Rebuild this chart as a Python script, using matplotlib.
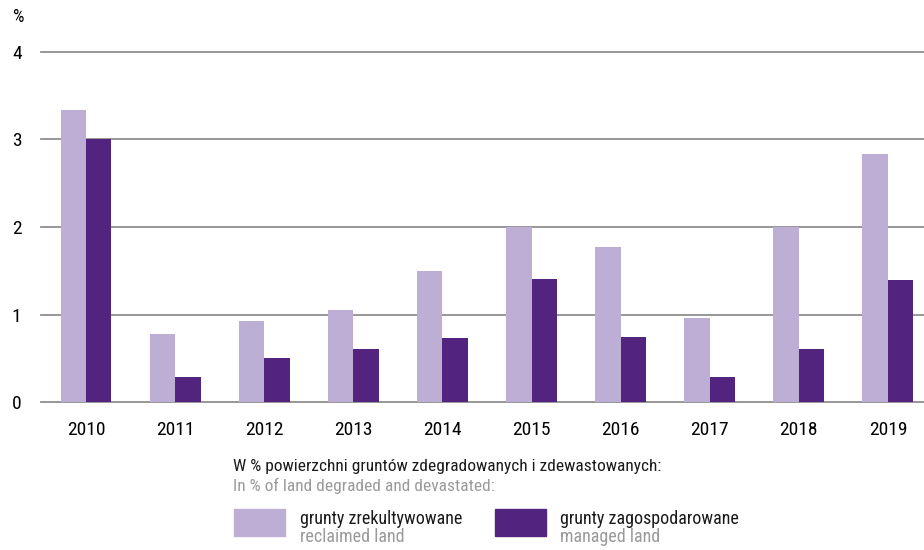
import numpy as np
import matplotlib
matplotlib.use('Agg')
import matplotlib.pyplot as plt
from matplotlib.patches import Rectangle
from matplotlib import font_manager

years = ['2010', '2011', '2012', '2013', '2014', '2015', '2016', '2017', '2018', '2019']
reclaimed = [3.34, 0.78, 0.93, 1.05, 1.50, 2.00, 1.77, 0.96, 2.00, 2.83]
managed = [3.00, 0.29, 0.50, 0.61, 0.73, 1.41, 0.74, 0.29, 0.61, 1.39]
yticks = [0, 1, 2, 3, 4]

light = '#bdaed6'
dark = '#52247f'
gray_txt = '#9a9a9a'

# pick a condensed face if there is one
names = set(f.name for f in font_manager.fontManager.ttflist)
cands = ['Liberation Sans Narrow', 'DejaVu Sans Condensed', 'Roboto Condensed',
         'Open Sans Condensed', 'Noto Sans']
fam = [c for c in cands if c in names]
plt.rcParams['font.family'] = fam[:1] + ['DejaVu Sans']
if fam and fam[0] == 'Noto Sans':
    plt.rcParams['font.stretch'] = 'condensed'

fig = plt.figure(figsize=(9.24, 5.5), dpi=100)
ax = fig.add_axes([41/924, 148/550, 883/924, 350/550])

x = np.arange(len(years))
w = 0.286
ax.bar(x - w/2, reclaimed, width=w, color=light, zorder=3)
ax.bar(x + w/2, managed, width=w, color=dark, zorder=3)

ax.set_xlim(-0.505, 9.405)
ax.set_ylim(0, 4)
ax.set_yticks(yticks)
ax.set_yticklabels([str(t) for t in yticks], fontsize=14)
ax.set_xticks(x)
ax.set_xticklabels(years, fontsize=14)
ax.tick_params(length=0)
ax.tick_params(axis='y', pad=14)
ax.tick_params(axis='x', pad=14)
for t in yticks:
    ax.axhline(t, color='#8f8f8f', lw=1.3, zorder=1, clip_on=False)
for s in ax.spines.values():
    s.set_visible(False)

fig.text(13/924, 1 - 17/550, '%', fontsize=13, va='center')

# legend
fig.text(233/924, 1 - 466/550, 'W % powierzchni gruntów zdegradowanych i zdewastowanych:',
         fontsize=12.5, va='center', color='#1a1a1a')
fig.text(233/924, 1 - 486/550, 'In % of land degraded and devastated:',
         fontsize=12.5, va='center', color=gray_txt)
fig.patches.append(Rectangle((234/924, 1 - 536/550), 51/924, 27/550,
                             transform=fig.transFigure, color=light, figure=fig))
fig.patches.append(Rectangle((495/924, 1 - 536/550), 51/924, 27/550,
                             transform=fig.transFigure, color=dark, figure=fig))
fig.text(300/924, 1 - 519/550, 'grunty zrekultywowane', fontsize=13, va='center', color='#1a1a1a')
fig.text(300/924, 1 - 537/550, 'reclaimed land', fontsize=13, va='center', color=gray_txt)
fig.text(560/924, 1 - 519/550, 'grunty zagospodarowane', fontsize=13, va='center', color='#1a1a1a')
fig.text(560/924, 1 - 537/550, 'managed land', fontsize=13, va='center', color=gray_txt)

fig.savefig('out.png', dpi=100)
